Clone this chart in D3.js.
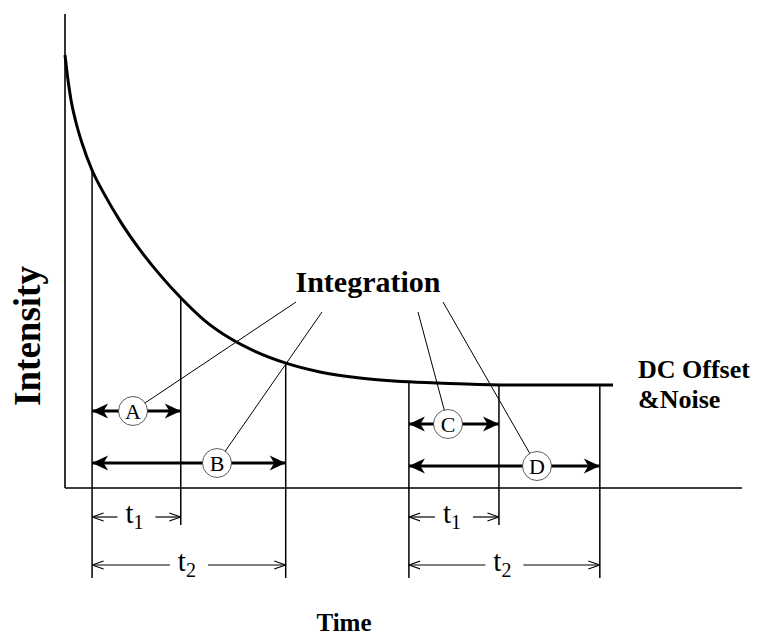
<!DOCTYPE html>
<html>
<head>
<meta charset="utf-8">
<script src="https://cdn.jsdelivr.net/npm/d3@7"></script>
<style>
  html, body { margin: 0; padding: 0; background: #fff; }
  svg { display: block; }
  text { font-family: "Liberation Serif", "Times New Roman", Times, serif; fill: #000; }
</style>
</head>
<body>
<svg id="chart" width="758" height="639"></svg>
<script>
// ---------------- data ----------------
const curveTime      = [0, 0.443, 0.886, 1.625, 2.511, 3.988, 5.908, 8.124, 11.078, 14.032, 17.134, 20.679, 24.372, 28.065, 32.644, 37.666, 43.575, 50.812, 56.869, 64.254, 71.640, 80.945];
const curveIntensity = [91.35, 86.08, 81.86, 77.11, 72.78, 67.09, 61.73, 56.35, 50.23, 44.96, 40.08, 35.27, 31.58, 28.84, 26.35, 24.49, 23.23, 22.41, 22.03, 21.75, 21.71, 21.71];

const gateLabels = ["A", "B", "C", "D"];
const gateStart  = [4.0, 4.0, 50.8, 50.8];
const gateEnd    = [17.1, 32.6, 64.1, 79.0];
const gateWindow = ["1", "2", "1", "2"];   // subscript of t for each gate

const axisTitleX = "Time";
const axisTitleY = "Intensity";
const calloutText = "Integration";
const offsetText = ["DC Offset", "&Noise"];

// ---------------- layout ----------------
const x = d3.scaleLinear().domain([0, 100]).range([65, 742]);
const y = d3.scaleLinear().domain([0, 100]).range([488, 14]);

const arrowY   = [411, 463, 424, 466];   // bold integration arrows
const circleX  = [133, 217, 448, 537];   // circle label centers
const dimY     = { "1": 517, "2": 565 };  // t1 / t2 dimension rows
const dimBottom= { "1": 525, "2": 578 };
const leaderFrom = [[296, 302], [322, 312], [418, 312], [443, 302]];

const svg = d3.select("#chart");

// curve value at a time (for where the gate lines meet the curve)
const curveAt = d3.scaleLinear().domain(curveTime).range(curveIntensity).clamp(true);

// defs: arrowheads
const defs = svg.append("defs");
defs.append("marker").attr("id", "boldHead")
  .attr("viewBox", "0 -9 18 18").attr("refX", 17).attr("refY", 0)
  .attr("markerWidth", 18).attr("markerHeight", 18).attr("markerUnits", "userSpaceOnUse")
  .attr("orient", "auto-start-reverse")
  .append("path").attr("d", "M17,0 L1,-7.5 L5.5,0 L1,7.5 Z").attr("fill", "#000");
defs.append("marker").attr("id", "thinHead")
  .attr("viewBox", "0 -6 12 12").attr("refX", 11.5).attr("refY", 0)
  .attr("markerWidth", 12).attr("markerHeight", 12).attr("markerUnits", "userSpaceOnUse")
  .attr("orient", "auto-start-reverse")
  .append("path").attr("d", "M0,-4 L11.5,0 L0,4").attr("fill", "none").attr("stroke", "#000").attr("stroke-width", 1.2);

// axes (plain lines, no ticks)
svg.append("line").attr("x1", x(0)).attr("x2", x(0)).attr("y1", y(100)).attr("y2", y(0))
  .attr("stroke", "#000").attr("stroke-width", 1.6);
svg.append("line").attr("x1", x(0)).attr("x2", x(100)).attr("y1", y(0)).attr("y2", y(0))
  .attr("stroke", "#000").attr("stroke-width", 1.6);

// gate vertical lines
const edges = [];
gateStart.forEach((s, i) => {
  edges.push({ t: s, bottom: 578 });
  edges.push({ t: gateEnd[i], bottom: dimBottom[gateWindow[i]] });
});
const uniqEdges = [];
edges.forEach(e => {
  const f = uniqEdges.find(u => Math.abs(u.t - e.t) < 1e-6);
  if (f) f.bottom = Math.max(f.bottom, e.bottom); else uniqEdges.push({ ...e });
});
svg.selectAll("line.edge").data(uniqEdges).enter().append("line")
  .attr("class", "edge")
  .attr("x1", d => x(d.t)).attr("x2", d => x(d.t))
  .attr("y1", d => y(curveAt(d.t))).attr("y2", d => d.bottom)
  .attr("stroke", "#000").attr("stroke-width", 1.5);

// decay curve
const line = d3.line().x(d => x(d[0])).y(d => y(d[1])).curve(d3.curveMonotoneX);
svg.append("path").datum(curveTime.map((t, i) => [t, curveIntensity[i]]))
  .attr("d", line).attr("fill", "none").attr("stroke", "#000").attr("stroke-width", 3);

// leader lines from "Integration" to circles
gateLabels.forEach((g, i) => {
  svg.append("line")
    .attr("x1", leaderFrom[i][0]).attr("y1", leaderFrom[i][1])
    .attr("x2", circleX[i]).attr("y2", arrowY[i])
    .attr("stroke", "#000").attr("stroke-width", 1);
});

// bold integration arrows with circled letters
gateLabels.forEach((g, i) => {
  svg.append("line")
    .attr("x1", x(gateStart[i])).attr("x2", x(gateEnd[i]))
    .attr("y1", arrowY[i]).attr("y2", arrowY[i])
    .attr("stroke", "#000").attr("stroke-width", 3.2)
    .attr("marker-start", "url(#boldHead)").attr("marker-end", "url(#boldHead)");
  svg.append("circle").attr("cx", circleX[i]).attr("cy", arrowY[i]).attr("r", 14.5)
    .attr("fill", "#fff").attr("stroke", "#333").attr("stroke-width", 0.8);
  svg.append("text").attr("x", circleX[i]).attr("y", arrowY[i] + 7.5)
    .attr("text-anchor", "middle").attr("font-size", 22).text(g);
});

// t1 / t2 dimension arrows
gateLabels.forEach((g, i) => {
  const x0 = x(gateStart[i]), x1 = x(gateEnd[i]);
  const cy = dimY[gateWindow[i]];
  const cx = (x0 + x1) / 2;
  const halfGap = 19;
  svg.append("line").attr("x1", cx - halfGap).attr("x2", x0).attr("y1", cy).attr("y2", cy)
    .attr("stroke", "#000").attr("stroke-width", 1.2).attr("marker-end", "url(#thinHead)");
  svg.append("line").attr("x1", cx + halfGap).attr("x2", x1).attr("y1", cy).attr("y2", cy)
    .attr("stroke", "#000").attr("stroke-width", 1.2).attr("marker-end", "url(#thinHead)");
  const t = svg.append("text").attr("x", cx - 2).attr("y", cy + 6)
    .attr("text-anchor", "middle").attr("font-size", 29);
  t.append("tspan").text("t");
  t.append("tspan").attr("font-size", 20).attr("dy", 6).text(gateWindow[i]);
});

// titles
svg.append("text").attr("x", 368).attr("y", 292).attr("text-anchor", "middle")
  .attr("font-size", 30).attr("font-weight", "bold").text(calloutText);
svg.append("text").attr("transform", "translate(40,336) rotate(-90)")
  .attr("text-anchor", "middle").attr("font-size", 37).attr("font-weight", "bold").text(axisTitleY);
svg.append("text").attr("x", 344).attr("y", 631).attr("text-anchor", "middle")
  .attr("font-size", 25).attr("font-weight", "bold").text(axisTitleX);
offsetText.forEach((s, i) => {
  svg.append("text").attr("x", 638).attr("y", 378 + i * 30)
    .attr("font-size", 26).attr("font-weight", "bold").text(s);
});
</script>
</body>
</html>
